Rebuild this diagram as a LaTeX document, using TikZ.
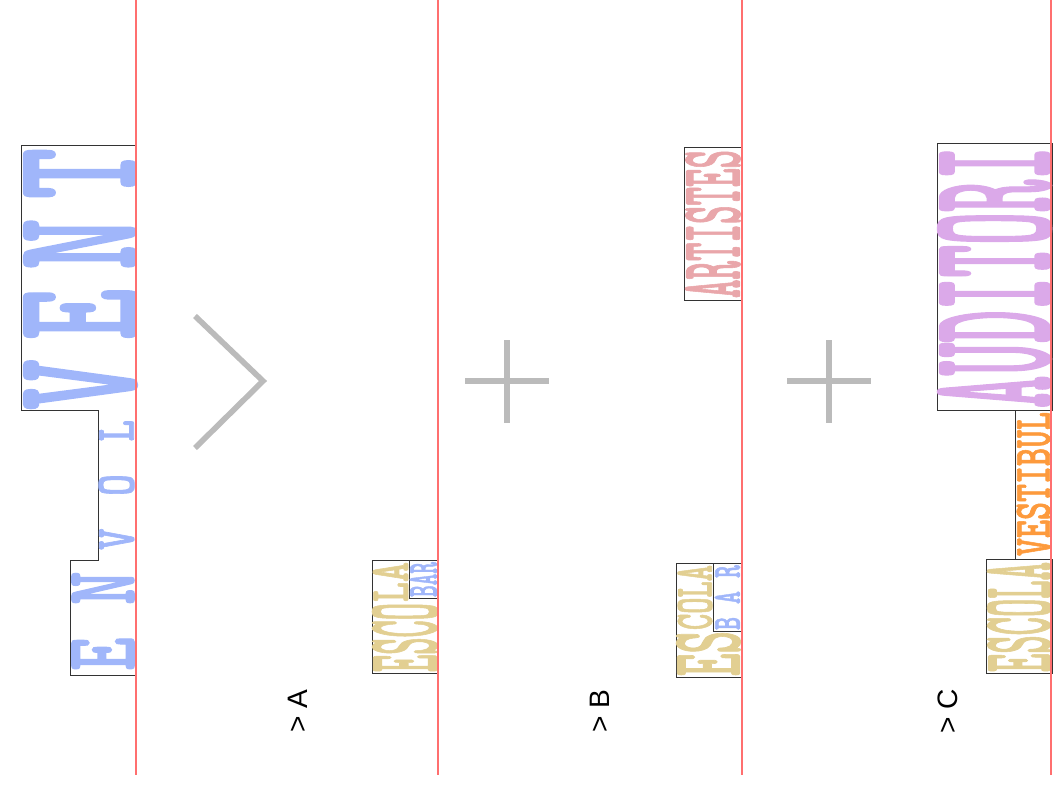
\documentclass[tikz,border=0pt]{standalone}
\usepackage{fontspec}
\usepackage{graphicx}
\usepackage{tikz}
\usetikzlibrary{positioning}
\newfontfamily\signfont{lmmonolt10-bold}[Extension=.otf, FakeBold=1.5]
\newfontfamily\labelfont{Liberation Sans}
\definecolor{envblue}{HTML}{A0B6FA}
\definecolor{escolatan}{HTML}{E2CF92}
\definecolor{artpink}{HTML}{E9A6AA}
\definecolor{audpurple}{HTML}{DBA9E9}
\definecolor{vestorange}{HTML}{FD9A3C}
\definecolor{linered}{HTML}{FF6F6F}
\definecolor{signgray}{HTML}{BBBBBB}
\newlength{\pxunit}
\setlength{\pxunit}{0.025cm}
\newcommand{\signtext}[3]{\resizebox{#1\pxunit}{#2\pxunit}{\signfont #3}}
\tikzset{
  signword/.style={rotate=90, inner sep=0pt, text=#1},
  outline/.style={draw=black!80, line width=0.6pt},
  divider/.style={draw=linered, line width=1pt},
  opsign/.style={draw=signgray, line width=4pt},
  steplabel/.style={rotate=90, inner sep=0pt, font=\labelfont\fontsize{20}{24}\selectfont},
}

\begin{document}
\begin{tikzpicture}[x=0.025cm, y=-0.025cm]
\useasboundingbox (0,0) rectangle (1057,796);

% Start: ENVOL / VENT
\draw[outline] (136,145) -- (21,145) -- (21,410) -- (98,410) -- (98,560) -- (70,560) -- (70,675) -- (136,675);
\node[signword=envblue] (vent) at (80.5,279) {\signtext{262}{111}{V\hspace{.2em}E\hspace{.2em}N\hspace{.2em}T}};
\node[signword=envblue] (enword) at (103,621) {\signtext{99}{62}{E N}};
\node[signword=envblue] (volword) at (116.5,485) {\signtext{130}{35}{V\hspace{0.8em}O\hspace{0.8em}L}};

% Step A
\draw[opsign] (195,316) -- (263,381) -- (195,448);
\draw[outline] (372,560) rectangle (438,673);
\draw[outline] (409,560) rectangle (438,598);
\node[signword=escolatan] (escoA) at (405,637.5) {\signtext{69}{64}{ESCO}};
\node[signword=escolatan] (laA) at (390.5,582) {\signtext{40}{35}{LA}};
\node[signword=envblue] (barA) at (423.5,579.5) {\signtext{35}{27}{BAR}};
\node[steplabel] (labA) at (298,711) {> A};

% Step B
\draw[opsign] (507,340) -- (507,423) (465,381) -- (549,381);
\draw[outline] (684,147) rectangle (742,300);
\node[signword=artpink] (artistes) at (713,224) {\signtext{148}{54}{ARTISTES}};
\draw[outline] (676,563) rectangle (742,677);
\draw[outline] (713,563) rectangle (742,631);
\node[signword=escolatan] (esB) at (708.5,653.5) {\signtext{45}{63}{ES}};
\node[signword=escolatan] (colaB) at (695,597.5) {\signtext{65}{34}{COLA}};
\node[signword=envblue] (barB) at (727.5,597.5) {\signtext{65}{25}{B A R}};
\node[steplabel] (labB) at (600,711) {> B};

% Step C
\draw[opsign] (829,340) -- (829,423) (787,381) -- (871,381);
\draw[outline] (937,143) rectangle (1052,410);
\node[signword=audpurple] (auditori) at (994.5,277.5) {\signtext{261}{111}{AUDITORI}};
\draw[outline] (1015,410) -- (1015,559);
\node[signword=vestorange] (vestibul) at (1033.5,484) {\signtext{144}{33}{VESTIBUL}};
\draw[outline] (986,559) rectangle (1052,673);
\node[signword=escolatan] (escolaC) at (1019,617) {\signtext{110}{62}{ESCOLA}};
\node[steplabel] (labC) at (948,711) {> C};

% red dividers
\foreach \xpos in {136,438,742,1051}
  \draw[divider] (\xpos,0) -- (\xpos,775);

\end{tikzpicture}
\end{document}
